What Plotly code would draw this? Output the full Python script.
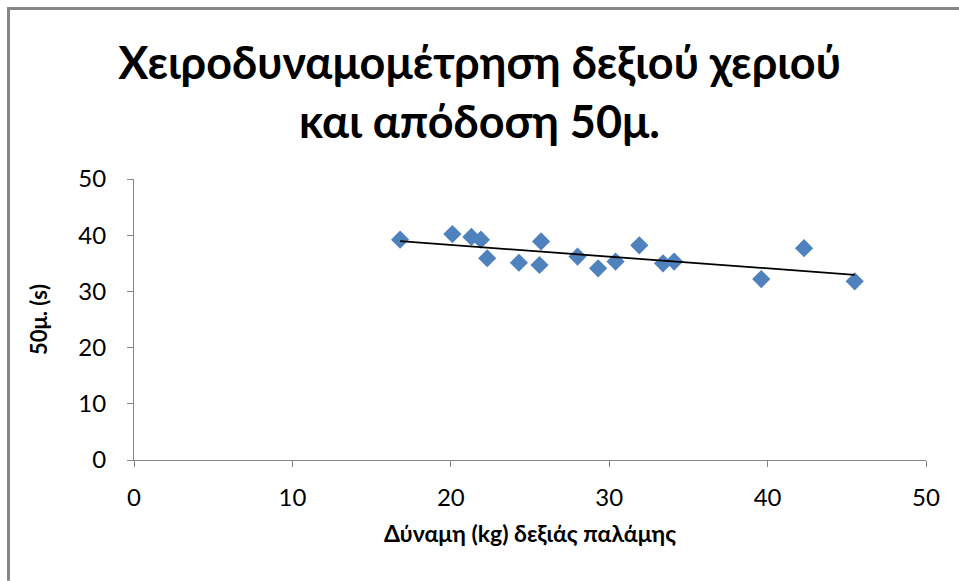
import numpy as np
import plotly.graph_objects as go

# Data
strength_kg = [16.8, 20.1, 21.3, 21.9, 22.3, 24.3, 25.6, 25.7, 28.0, 29.3, 30.4, 31.9, 33.4, 34.1, 39.6, 42.3, 45.5]
time_50m_s = [39.2, 40.2, 39.7, 39.2, 35.9, 35.1, 34.7, 38.9, 36.2, 34.1, 35.3, 38.2, 35.0, 35.3, 32.2, 37.7, 31.8]

title_text = "Χειροδυναμομέτρηση δεξιού χεριού<br>και απόδοση 50μ."
x_title = "Δύναμη (kg) δεξιάς παλάμης"
y_title = "50μ. (s)"

# Linear trendline (least squares) over the data range
xs = np.array(strength_kg)
ys = np.array(time_50m_s)
slope, intercept = np.polyfit(xs, ys, 1)
trend_x = [xs.min(), xs.max()]
trend_y = [slope * v + intercept for v in trend_x]

FONT = "Lato, 'Open Sans', sans-serif"

fig = go.Figure()
fig.add_trace(go.Scatter(
    x=strength_kg, y=time_50m_s, mode="markers",
    marker=dict(symbol="diamond", size=14, color="#4F81BD",
                line=dict(width=0)),
    showlegend=False,
))
fig.add_trace(go.Scatter(
    x=trend_x, y=trend_y, mode="lines",
    line=dict(color="black", width=1.8),
    showlegend=False,
))

GRAY = "#868686"
# frame edges as thin filled rectangles (paper coords: plot area 134..926 px, 179..460 px)
left_x0, left_x1 = (7 - 134) / 792, (10 - 134) / 792
top_y0, top_y1 = 1 + (179 - 10) / 281, 1 + (179 - 7) / 281

fig.update_layout(
    width=959, height=581,
    paper_bgcolor="white", plot_bgcolor="white",
    margin=dict(l=134, r=33, t=179, b=121, autoexpand=False),
    font=dict(family=FONT, color="black"),
    title=dict(text="<b>" + title_text + "</b>", x=0.5, xanchor="center",
               y=1 - 79 / 581, yanchor="middle",
               font=dict(size=45, family=FONT, color="black")),
    xaxis=dict(range=[0, 50], dtick=10, showgrid=False, zeroline=False,
               showline=True, linecolor=GRAY, linewidth=1,
               ticks="outside", ticklen=6, tickcolor=GRAY,
               tickfont=dict(size=24), ticklabelstandoff=10,
               fixedrange=True, automargin=False,
               title=dict(text="<b>" + x_title + "</b>", font=dict(size=23), standoff=16)),
    yaxis=dict(range=[0, 50], dtick=10, showgrid=False, zeroline=False,
               showline=True, linecolor=GRAY, linewidth=1,
               ticks="outside", ticklen=6, tickcolor=GRAY,
               tickfont=dict(size=24), ticklabelstandoff=16,
               fixedrange=True, automargin=False,
               title=dict(text="<b>" + y_title + "</b>", font=dict(size=22), standoff=24)),
    shapes=[
        dict(type="rect", xref="paper", yref="paper",
             x0=left_x0, x1=left_x1, y0=-0.43, y1=top_y1,
             fillcolor=GRAY, line=dict(width=0), layer="above"),
        dict(type="rect", xref="paper", yref="paper",
             x0=left_x0, x1=1.0417, y0=top_y0, y1=top_y1,
             fillcolor=GRAY, line=dict(width=0), layer="above"),
    ],
)

fig.write_html("out.html", config={"displayModeBar": False},
               post_script="document.body.style.margin='0';")
